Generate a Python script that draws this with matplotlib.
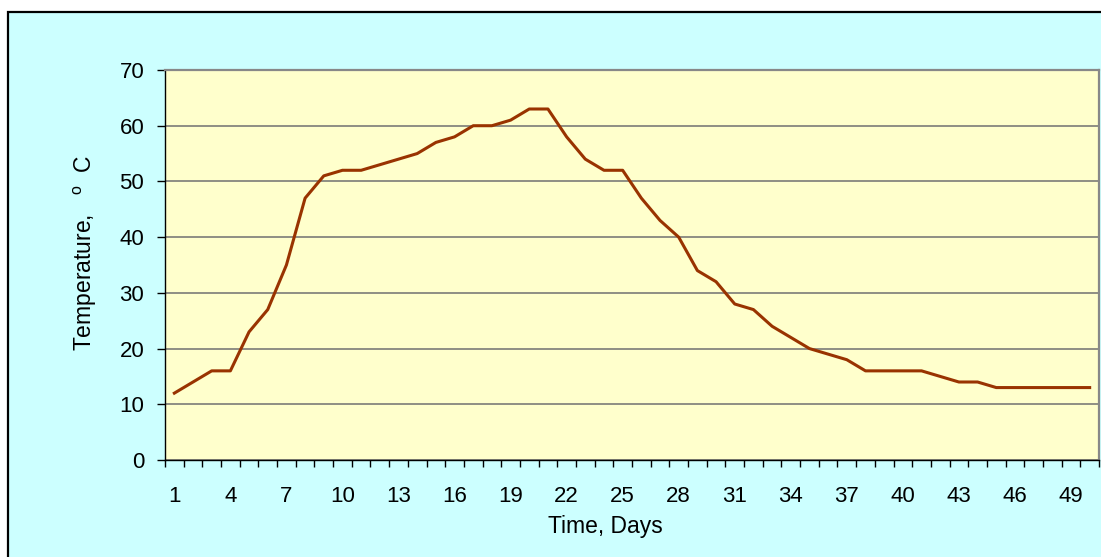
import numpy as np
import matplotlib
matplotlib.use("Agg")
import matplotlib.pyplot as plt
from matplotlib.patches import Rectangle

plt.rcParams['font.family'] = ['Liberation Sans', 'DejaVu Sans']
plt.rcParams['mathtext.fontset'] = 'custom'
plt.rcParams['mathtext.rm'] = 'Liberation Sans'

# daily temperature readings, days 1..50
days = list(range(1, 51))
temperature = [12, 14, 16, 16, 23, 27, 35, 47, 51, 52,
               52, 53, 54, 55, 57, 58, 60, 60, 61, 63,
               63, 58, 54, 52, 52, 47, 43, 40, 34, 32,
               28, 27, 24, 22, 20, 19, 18, 16, 16, 16,
               16, 15, 14, 14, 13, 13, 13, 13, 13, 13]
y_ticks = [0, 10, 20, 30, 40, 50, 60, 70]
x_label_days = list(range(1, 51, 3))

W, H = 1101, 557
fig = plt.figure(figsize=(W / 100, H / 100), dpi=100)
fig.patch.set_facecolor('white')

# cyan chart area with black border (runs off right/bottom edge)
bg = Rectangle((8 / W, -0.05), 1.1, (545 / H) + 0.05, transform=fig.transFigure,
               facecolor='#CCFFFF', edgecolor='black', linewidth=1.6, zorder=-10)
fig.patches.append(bg)

ax = fig.add_axes([165 / W, (H - 460) / H, (1099 - 165) / W, 390 / H])
ax.set_facecolor('#FFFFCC')

ax.plot(days, temperature, color='#993300', linewidth=2.2, zorder=3)

ax.set_xlim(0.5, 50.5)
ax.set_ylim(0, 70)
ax.set_yticks(y_ticks)
ax.yaxis.grid(True, color='#707070', linewidth=1.1)
ax.set_axisbelow(True)

ax.set_xticks(x_label_days)
ax.set_xticks(np.arange(0.5, 51, 1), minor=True)
ax.tick_params(axis='x', which='major', length=0, pad=19, labelsize=16)
ax.tick_params(axis='x', which='minor', length=5, width=1, direction='out')
ax.tick_params(axis='y', length=6, width=1, pad=9, labelsize=16)

for s in ['left', 'bottom']:
    ax.spines[s].set_color('black')
    ax.spines[s].set_linewidth(1)
for s in ['top', 'right']:
    ax.spines[s].set_color('#888888')
    ax.spines[s].set_linewidth(1.6)

fig.text(605 / W, 1 - 527 / H, 'Time, Days', fontsize=16.5, ha='center', va='center')
fig.text(85 / W, 1 - 253 / H, r'Temperature,   $^{\mathrm{o}}$  C', fontsize=16.5,
         rotation=90, ha='center', va='center')

fig.savefig('out.png', dpi=100)
